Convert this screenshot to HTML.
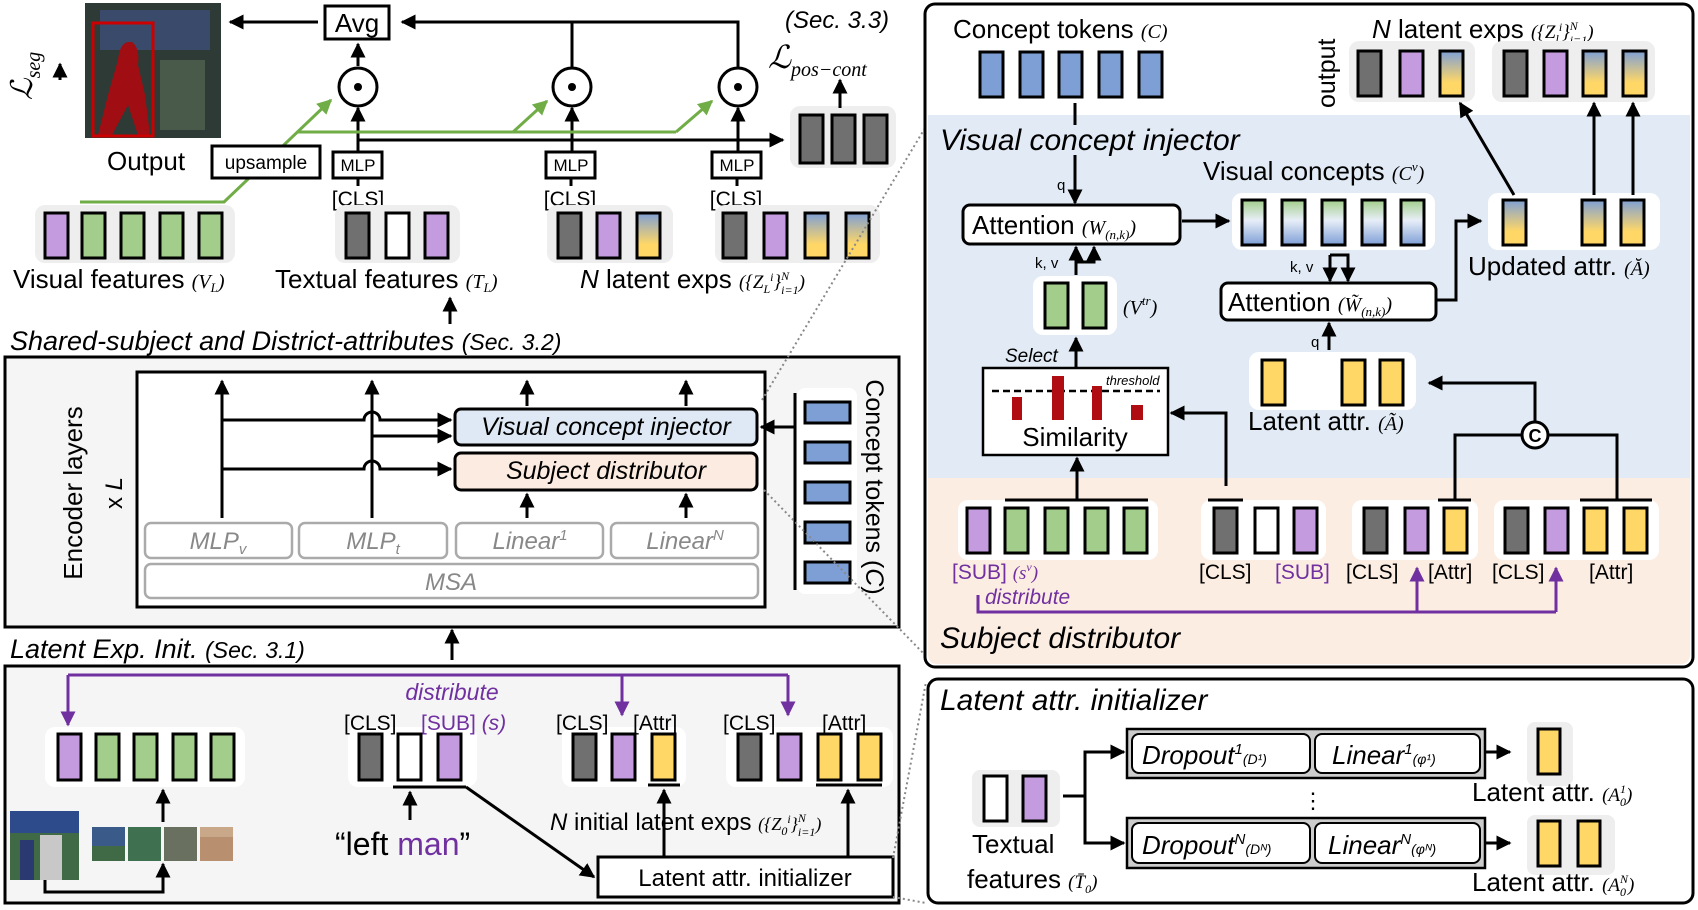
<!DOCTYPE html>
<html><head><meta charset="utf-8"><style>
html,body{margin:0;padding:0;background:#fff}
svg{display:block}
text{font-family:"Liberation Sans Narrow","Liberation Sans",sans-serif;fill:#000}
.it{font-style:italic}
.ser{font-family:"Liberation Serif",serif;font-style:italic}
.tk{stroke:#000;stroke-width:3}
.ln{stroke:#000;stroke-width:3;fill:none}
.pl{stroke:#7030a0;stroke-width:3;fill:none}
.gl{stroke:#70ad47;stroke-width:3;fill:none}
.dot{stroke:#888;stroke-width:2;stroke-dasharray:2 3;fill:none}
</style></head><body>
<svg width="1698" height="910" viewBox="0 0 1698 910" xmlns="http://www.w3.org/2000/svg">
<defs>
<marker id="a" viewBox="0 0 10 10" refX="9" refY="5" markerWidth="5" markerHeight="5" orient="auto-start-reverse"><path d="M0 0L10 5L0 10z" fill="#000"/></marker>
<marker id="ap" viewBox="0 0 10 10" refX="9" refY="5" markerWidth="5" markerHeight="5" orient="auto"><path d="M0 0L10 5L0 10z" fill="#7030a0"/></marker>
<marker id="ag" viewBox="0 0 10 10" refX="9" refY="5" markerWidth="5" markerHeight="5" orient="auto"><path d="M0 0L10 5L0 10z" fill="#70ad47"/></marker>
<linearGradient id="by" x1="0" y1="0" x2="0" y2="1"><stop offset="0" stop-color="#7e9fd6"/><stop offset="0.7" stop-color="#ffd766"/></linearGradient>
<linearGradient id="gb" x1="0" y1="0" x2="0" y2="1"><stop offset="0" stop-color="#a2cd8a"/><stop offset="0.45" stop-color="#e8eef8"/><stop offset="1" stop-color="#7e9fd6"/></linearGradient>
</defs>

<!-- ============ TOP LEFT ============ -->
<rect x="85" y="3" width="136" height="135" fill="#2e3a35"/>
<rect x="100" y="10" width="110" height="40" fill="#3a4a6a"/>
<rect x="160" y="60" width="45" height="70" fill="#4a5a4a"/>
<path d="M118 60 Q120 40 132 42 Q140 48 138 65 L145 95 L150 135 L138 135 L128 105 L112 135 L98 135 L108 95 Z" fill="#a00d12"/>
<rect x="93" y="23" width="60" height="113" fill="none" stroke="#c00" stroke-width="3"/>
<text transform="translate(32,100) rotate(-90)" class="ser" font-size="30">ℒ<tspan font-size="20" dy="8">seg</tspan></text>
<line x1="60" y1="80" x2="60" y2="64" class="ln" marker-end="url(#a)"/>

<rect x="325" y="6" width="64" height="33" fill="#fff" stroke="#000" stroke-width="3"/>
<text x="357" y="32" font-size="26" text-anchor="middle">Avg</text>
<line x1="318" y1="22" x2="230" y2="22" class="ln" marker-end="url(#a)"/>
<path d="M738 68 V22 H402" class="ln" marker-end="url(#a)"/>
<line x1="572" y1="68" x2="572" y2="22" class="ln"/>
<line x1="358" y1="66" x2="358" y2="44" class="ln" marker-end="url(#a)"/>
<g fill="#fff" stroke="#000" stroke-width="3">
<circle cx="358" cy="87" r="19"/><circle cx="572" cy="87" r="19"/><circle cx="738" cy="87" r="19"/></g>
<g fill="#000"><circle cx="358" cy="87" r="4"/><circle cx="572" cy="87" r="4"/><circle cx="738" cy="87" r="4"/></g>
<g class="ln" marker-end="url(#a)">
<line x1="358" y1="152" x2="358" y2="108"/><line x1="572" y1="152" x2="572" y2="108"/><line x1="738" y1="152" x2="738" y2="108"/></g>
<g fill="#fff" stroke="#000" stroke-width="3">
<rect x="333" y="152" width="49" height="26"/><rect x="546" y="152" width="49" height="26"/><rect x="712" y="152" width="49" height="26"/></g>
<g font-size="17" text-anchor="middle"><text x="358" y="171">MLP</text><text x="571" y="171">MLP</text><text x="737" y="171">MLP</text></g>
<g class="ln" stroke-width="2"><line x1="358" y1="178" x2="358" y2="186"/><line x1="571" y1="178" x2="571" y2="186"/><line x1="737" y1="178" x2="737" y2="186"/></g>
<g font-size="21" text-anchor="middle"><text x="358" y="206">[CLS]</text><text x="570" y="206">[CLS]</text><text x="736" y="206">[CLS]</text></g>
<line x1="358" y1="140" x2="783" y2="140" class="ln" marker-end="url(#a)"/>
<path d="M80 202 H224 L331 100" class="gl" marker-end="url(#ag)"/>
<path d="M297 132 H676" class="gl"/>
<line x1="513" y1="132" x2="547" y2="101" class="gl" marker-end="url(#ag)"/>
<line x1="676" y1="132" x2="712" y2="101" class="gl" marker-end="url(#ag)"/>
<rect x="212" y="146" width="108" height="32" fill="#fff" stroke="#000" stroke-width="3"/>
<text x="266" y="169" font-size="19" text-anchor="middle">upsample</text>
<text x="107" y="170" font-size="26">Output</text>

<!-- top token groups -->
<g fill="#eee"><rect x="35" y="205" width="200" height="58" rx="10"/><rect x="335" y="205" width="125" height="58" rx="10"/><rect x="547" y="205" width="126" height="58" rx="10"/><rect x="715" y="205" width="165" height="58" rx="10"/><rect x="790" y="106" width="106" height="62" rx="10"/></g>
<g class="tk">
<rect x="45" y="213" width="23" height="45" fill="#c39bde"/><rect x="82" y="213" width="23" height="45" fill="#a2cd8a"/><rect x="121" y="213" width="23" height="45" fill="#a2cd8a"/><rect x="160" y="213" width="23" height="45" fill="#a2cd8a"/><rect x="199" y="213" width="23" height="45" fill="#a2cd8a"/>
<rect x="346" y="213" width="23" height="45" fill="#707070"/><rect x="386" y="213" width="23" height="45" fill="#fff"/><rect x="425" y="213" width="23" height="45" fill="#c39bde"/>
<rect x="558" y="213" width="23" height="45" fill="#707070"/><rect x="597" y="213" width="23" height="45" fill="#c39bde"/><rect x="637" y="213" width="23" height="45" fill="url(#by)"/>
<rect x="723" y="213" width="23" height="45" fill="#707070"/><rect x="764" y="213" width="23" height="45" fill="#c39bde"/><rect x="805" y="213" width="23" height="45" fill="url(#by)"/><rect x="846" y="213" width="23" height="45" fill="url(#by)"/>
<rect x="800" y="115" width="23" height="48" fill="#707070"/><rect x="832" y="115" width="23" height="48" fill="#707070"/><rect x="864" y="115" width="23" height="48" fill="#707070"/>
</g>
<text x="13" y="288" font-size="26">Visual features <tspan class="ser" font-size="20">(V<tspan font-size="13" dy="4">L</tspan><tspan dy="-4">)</tspan></tspan></text>
<text x="275" y="288" font-size="26">Textual features <tspan class="ser" font-size="20">(T<tspan font-size="13" dy="4">L</tspan><tspan dy="-4">)</tspan></tspan></text>
<text x="580" y="288" font-size="26"><tspan class="it">N</tspan> latent exps <tspan class="ser" font-size="19">({Z<tspan font-size="12" dy="5">L</tspan><tspan font-size="12" dy="-12">i</tspan><tspan dy="7">}</tspan><tspan font-size="12" dy="-8">N</tspan><tspan font-size="12" dx="-8" dy="14">i=1</tspan><tspan dy="-6">)</tspan></tspan></text>
<text x="785" y="28" font-size="24" class="it">(Sec. 3.3)</text>
<text x="768" y="68" class="ser" font-size="32">ℒ<tspan font-size="20" dy="8">pos−cont</tspan></text>
<line x1="840" y1="108" x2="840" y2="80" class="ln" marker-end="url(#a)"/>
<line x1="450" y1="324" x2="450" y2="298" class="ln" marker-end="url(#a)"/>

<!-- ============ MIDDLE LEFT ============ -->
<text x="10" y="350" font-size="27" class="it">Shared-subject and District-attributes <tspan font-size="23">(Sec. 3.2)</tspan></text>
<rect x="5" y="357" width="894" height="270" fill="#f5f5f5" stroke="#000" stroke-width="3"/>
<text transform="translate(82,493) rotate(-90)" font-size="26" text-anchor="middle" font-family="DejaVu Sans, sans-serif">Encoder layers</text>
<text transform="translate(122,493) rotate(-90)" font-size="24" text-anchor="middle" font-family="DejaVu Sans, sans-serif">x <tspan font-style="italic">L</tspan></text>
<rect x="137" y="372" width="628" height="235" fill="#fff" stroke="#000" stroke-width="3"/>
<g class="ln" marker-end="url(#a)">
<line x1="222" y1="518" x2="222" y2="381"/><line x1="372" y1="518" x2="372" y2="381"/>
<line x1="527" y1="406" x2="527" y2="381"/><line x1="686" y1="406" x2="686" y2="381"/>
<line x1="527" y1="518" x2="527" y2="494"/><line x1="686" y1="518" x2="686" y2="494"/>
<path d="M222 420 H364 A8 8 0 0 1 380 420 H451"/>
<path d="M372 436 H451"/>
<path d="M222 469 H364 A8 8 0 0 1 380 469 H451"/>
<line x1="795" y1="427" x2="761" y2="427"/>
</g>
<rect x="455" y="409" width="302" height="36" rx="6" fill="#dfe9f5" stroke="#000" stroke-width="3"/>
<text x="606" y="435" font-size="25" class="it" text-anchor="middle">Visual concept injector</text>
<rect x="455" y="453" width="302" height="37" rx="6" fill="#fcebe0" stroke="#000" stroke-width="3"/>
<text x="606" y="479" font-size="25" class="it" text-anchor="middle">Subject distributor</text>
<g fill="#fff" stroke="#aaa" stroke-width="2.5">
<rect x="145" y="523" width="147" height="35" rx="6"/><rect x="299" y="523" width="148" height="35" rx="6"/><rect x="456" y="523" width="147" height="35" rx="6"/><rect x="611" y="523" width="147" height="35" rx="6"/>
<rect x="145" y="564" width="613" height="34" rx="6"/></g>
<g class="ser" font-size="24" fill="#888" text-anchor="middle" style="fill:#888">
<text x="218" y="549" style="fill:#888">MLP<tspan font-size="15" dy="5">v</tspan></text>
<text x="373" y="549" style="fill:#888">MLP<tspan font-size="15" dy="5">t</tspan></text>
<text x="530" y="549" style="fill:#888">Linear<tspan font-size="15" dy="-9">1</tspan></text>
<text x="685" y="549" style="fill:#888">Linear<tspan font-size="15" dy="-9">N</tspan></text>
<text x="451" y="590" style="fill:#888">MSA</text></g>
<rect x="797" y="388" width="60" height="206" fill="#fff" rx="8"/>
<line x1="795" y1="393" x2="795" y2="590" class="ln"/>
<g class="tk" fill="#7e9fd6">
<rect x="805" y="402" width="45" height="21"/><rect x="805" y="442" width="45" height="21"/><rect x="805" y="482" width="45" height="21"/><rect x="805" y="522" width="45" height="21"/><rect x="805" y="562" width="45" height="21"/></g>
<text transform="translate(866,487) rotate(90)" font-size="25" text-anchor="middle" font-family="DejaVu Sans, sans-serif">Concept tokens (<tspan font-style="italic">C</tspan>)</text>

<!-- ============ BOTTOM LEFT ============ -->
<text x="10" y="658" font-size="27" class="it">Latent Exp. Init. <tspan font-size="23">(Sec. 3.1)</tspan></text>
<line x1="452" y1="660" x2="452" y2="630" class="ln" marker-end="url(#a)"/>
<rect x="5" y="666" width="894" height="237" fill="#f5f5f5" stroke="#000" stroke-width="3"/>
<path d="M68 675 H788" class="pl"/>
<line x1="68" y1="675" x2="68" y2="725" class="pl" marker-end="url(#ap)"/>
<line x1="622" y1="675" x2="622" y2="715" class="pl" marker-end="url(#ap)"/>
<line x1="788" y1="675" x2="788" y2="715" class="pl" marker-end="url(#ap)"/>
<text x="452" y="700" font-size="23" class="it" text-anchor="middle" style="fill:#7030a0">distribute</text>
<g fill="#fff"><rect x="45" y="727" width="200" height="60" rx="10"/><rect x="348" y="727" width="129" height="60" rx="10"/><rect x="562" y="727" width="124" height="60" rx="10"/><rect x="726" y="727" width="167" height="60" rx="10"/></g>
<g class="tk">
<rect x="58" y="734" width="23" height="46" fill="#c39bde"/><rect x="96" y="734" width="23" height="46" fill="#a2cd8a"/><rect x="134" y="734" width="23" height="46" fill="#a2cd8a"/><rect x="173" y="734" width="23" height="46" fill="#a2cd8a"/><rect x="211" y="734" width="23" height="46" fill="#a2cd8a"/>
<rect x="359" y="734" width="23" height="46" fill="#707070"/><rect x="398" y="734" width="23" height="46" fill="#fff"/><rect x="438" y="734" width="23" height="46" fill="#c39bde"/>
<rect x="573" y="734" width="23" height="46" fill="#707070"/><rect x="612" y="734" width="23" height="46" fill="#c39bde"/><rect x="652" y="734" width="23" height="46" fill="#ffd766"/>
<rect x="738" y="734" width="23" height="46" fill="#707070"/><rect x="778" y="734" width="23" height="46" fill="#c39bde"/><rect x="818" y="734" width="23" height="46" fill="#ffd766"/><rect x="858" y="734" width="23" height="46" fill="#ffd766"/>
</g>
<g font-size="21"><text x="344" y="730">[CLS]</text><text x="556" y="730">[CLS]</text><text x="633" y="730">[Attr]</text><text x="723" y="730">[CLS]</text><text x="822" y="730">[Attr]</text></g>
<text x="421" y="730" font-size="21" style="fill:#7030a0">[SUB] <tspan class="it">(s)</tspan></text>
<line x1="393" y1="787" x2="466" y2="787" class="ln"/>
<line x1="466" y1="787" x2="594" y2="877" class="ln" marker-end="url(#a)"/>
<line x1="648" y1="785" x2="680" y2="785" class="ln"/><line x1="816" y1="785" x2="882" y2="785" class="ln"/>
<line x1="410" y1="820" x2="410" y2="792" class="ln" marker-end="url(#a)"/>
<line x1="664" y1="857" x2="664" y2="790" class="ln" marker-end="url(#a)"/>
<line x1="848" y1="857" x2="848" y2="790" class="ln" marker-end="url(#a)"/>
<text x="335" y="855" font-size="32">“left <tspan style="fill:#7030a0">man</tspan>”</text>
<text x="550" y="830" font-size="24"><tspan class="it">N</tspan> initial latent exps <tspan class="ser" font-size="18">({Z<tspan font-size="12" dy="5">0</tspan><tspan font-size="12" dy="-12">i</tspan><tspan dy="7">}</tspan><tspan font-size="12" dy="-8">N</tspan><tspan font-size="12" dx="-8" dy="14">i=1</tspan><tspan dy="-6">)</tspan></tspan></text>
<rect x="598" y="857" width="295" height="40" fill="#fff" stroke="#000" stroke-width="3"/>
<text x="745" y="886" font-size="24" text-anchor="middle">Latent attr. initializer</text>
<rect x="10" y="811" width="69" height="69" fill="#3f6a45"/><rect x="10" y="811" width="69" height="22" fill="#2d4a8a"/><rect x="40" y="835" width="22" height="45" fill="#c8c8c8"/><rect x="20" y="840" width="14" height="40" fill="#2a3a70"/>
<rect x="92" y="827" width="33" height="34" fill="#3a5a8a"/><rect x="128" y="827" width="33" height="34" fill="#3f7050"/><rect x="164" y="827" width="33" height="34" fill="#6a7060"/><rect x="200" y="827" width="33" height="34" fill="#b89070"/>
<rect x="92" y="846" width="33" height="15" fill="#3f6a45"/><rect x="200" y="827" width="33" height="10" fill="#c8a888"/>
<path d="M45 880 V892 H163 V864" class="ln" marker-end="url(#a)"/>
<line x1="163" y1="822" x2="163" y2="790" class="ln" marker-end="url(#a)"/>

<!-- dotted connectors -->
<line x1="762" y1="400" x2="925" y2="128" class="dot"/>
<line x1="764" y1="490" x2="925" y2="655" class="dot"/>
<line x1="893" y1="858" x2="926" y2="682" class="dot"/>
<line x1="893" y1="897" x2="926" y2="903" class="dot"/>

<!-- ============ RIGHT PANEL ============ -->
<rect x="925" y="4" width="768" height="663" rx="10" fill="#fff" stroke="#000" stroke-width="3"/>
<path d="M928 115 H1690 V478 H928 Z" fill="#e2ebf5"/>
<path d="M928 478 H1690 V654 Q1690 664 1680 664 H938 Q928 664 928 654 Z" fill="#fcede3"/>
<text x="953" y="38" font-size="26">Concept tokens <tspan class="ser" font-size="20">(C)</tspan></text>
<g class="tk" fill="#7e9fd6">
<rect x="980" y="52" width="23" height="45"/><rect x="1020" y="52" width="23" height="45"/><rect x="1059" y="52" width="23" height="45"/><rect x="1099" y="52" width="23" height="45"/><rect x="1139" y="52" width="23" height="45"/></g>
<line x1="1075" y1="103" x2="1075" y2="125" class="ln" stroke-width="2"/>
<line x1="1075" y1="155" x2="1075" y2="203" class="ln" marker-end="url(#a)"/>
<text x="1057" y="190" font-size="15">q</text>
<text x="940" y="150" font-size="30" class="it">Visual concept injector</text>
<text transform="translate(1335,108) rotate(-90)" font-size="25" font-family="DejaVu Sans, sans-serif">output</text>
<text x="1372" y="38" font-size="26"><tspan class="it">N</tspan> latent exps <tspan class="ser" font-size="19">({Z<tspan font-size="12" dy="5">l</tspan><tspan font-size="12" dy="-12">i</tspan><tspan dy="7">}</tspan><tspan font-size="12" dy="-8">N</tspan><tspan font-size="12" dx="-8" dy="14">i=1</tspan><tspan dy="-6">)</tspan></tspan></text>
<g fill="#eee"><rect x="1349" y="41" width="126" height="61" rx="10"/><rect x="1492" y="41" width="163" height="61" rx="10"/></g>
<g class="tk">
<rect x="1358" y="51" width="23" height="45" fill="#707070"/><rect x="1400" y="51" width="23" height="45" fill="#c39bde"/><rect x="1440" y="51" width="23" height="45" fill="url(#by)"/>
<rect x="1504" y="51" width="23" height="45" fill="#707070"/><rect x="1544" y="51" width="23" height="45" fill="#c39bde"/><rect x="1583" y="51" width="23" height="45" fill="url(#by)"/><rect x="1623" y="51" width="23" height="45" fill="url(#by)"/></g>

<rect x="963" y="205" width="217" height="39" rx="7" fill="#fff" stroke="#000" stroke-width="3"/>
<text x="972" y="234" font-size="26">Attention <tspan class="ser" font-size="20">(W<tspan font-size="13" dy="5">(n,k)</tspan><tspan dy="-5">)</tspan></tspan></text>
<line x1="1182" y1="221" x2="1229" y2="221" class="ln" marker-end="url(#a)"/>
<text x="1203" y="180" font-size="26">Visual  concepts <tspan class="ser" font-size="20">(C<tspan font-size="13" dy="-9">v</tspan><tspan dy="9">)</tspan></tspan></text>
<g fill="#fff"><rect x="1232" y="193" width="203" height="57" rx="10"/><rect x="1488" y="193" width="172" height="57" rx="10"/><rect x="1033" y="276" width="84" height="59" rx="10"/><rect x="1249" y="352" width="167" height="58" rx="10"/></g>
<g class="tk">
<rect x="1242" y="200" width="23" height="45" fill="url(#gb)"/><rect x="1282" y="200" width="23" height="45" fill="url(#gb)"/><rect x="1322" y="200" width="23" height="45" fill="url(#gb)"/><rect x="1362" y="200" width="23" height="45" fill="url(#gb)"/><rect x="1401" y="200" width="23" height="45" fill="url(#gb)"/>
<rect x="1503" y="200" width="23" height="45" fill="url(#by)"/><rect x="1582" y="200" width="23" height="45" fill="url(#by)"/><rect x="1621" y="200" width="23" height="45" fill="url(#by)"/>
<rect x="1045" y="283" width="23" height="45" fill="#a2cd8a"/><rect x="1083" y="283" width="23" height="45" fill="#a2cd8a"/>
<rect x="1262" y="360" width="23" height="45" fill="#ffd766"/><rect x="1342" y="360" width="23" height="45" fill="#ffd766"/><rect x="1380" y="360" width="23" height="45" fill="#ffd766"/></g>
<text x="1468" y="275" font-size="26">Updated attr. <tspan class="ser" font-size="20">(Ă)</tspan></text>
<g class="ln" marker-end="url(#a)">
<line x1="1514" y1="195" x2="1460" y2="103"/><line x1="1594" y1="195" x2="1594" y2="103"/><line x1="1633" y1="195" x2="1633" y2="103"/>
<path d="M1437 300 H1456 V221 H1481"/>
<line x1="1076" y1="275" x2="1076" y2="247"/>
<path d="M1076 262 H1094 V247"/>
<line x1="1076" y1="368" x2="1076" y2="338"/>
<path d="M1330 255 V281"/><path d="M1330 255 H1348 V281"/>
<line x1="1329" y1="350" x2="1329" y2="323"/>
<path d="M1226 486 V413 H1171"/>
<line x1="1077" y1="500" x2="1077" y2="458"/>
<path d="M1535 421 V383 H1429"/>
</g>
<text x="1035" y="268" font-size="15">k, v</text>
<text x="1290" y="272" font-size="15">k, v</text>
<text x="1311" y="347" font-size="15">q</text>
<text x="1123" y="314" class="ser" font-size="20">(V<tspan font-size="13" dy="-9">tr</tspan><tspan dy="9">)</tspan></text>
<text x="1005" y="362" font-size="19" class="it">Select</text>
<rect x="983" y="368" width="185" height="87" fill="#fff" stroke="#000" stroke-width="2.5"/>
<line x1="992" y1="391" x2="1160" y2="391" stroke="#000" stroke-width="2.5" stroke-dasharray="7 4"/>
<g fill="#b00d12"><rect x="1012" y="397" width="10" height="23"/><rect x="1052" y="376" width="12" height="44"/><rect x="1092" y="386" width="10" height="34"/><rect x="1131" y="405" width="12" height="15"/></g>
<text x="1106" y="385" font-size="13" class="it">threshold</text>
<text x="1075" y="446" font-size="26" text-anchor="middle">Similarity</text>
<rect x="1221" y="283" width="215" height="37" rx="7" fill="#fff" stroke="#000" stroke-width="3"/>
<text x="1228" y="311" font-size="26">Attention <tspan class="ser" font-size="20">(W̃<tspan font-size="13" dy="5">(n,k)</tspan><tspan dy="-5">)</tspan></tspan></text>
<text x="1248" y="430" font-size="26">Latent attr. <tspan class="ser" font-size="20">(Ã)</tspan></text>
<path d="M1455 500 V435 H1617 V500" class="ln"/>
<circle cx="1535" cy="435" r="13" fill="#fff" stroke="#000" stroke-width="3"/>
<text x="1535" y="442" font-size="18" text-anchor="middle" font-weight="bold">C</text>

<!-- peach row -->
<g fill="#fff"><rect x="958" y="500" width="200" height="60" rx="10"/><rect x="1201" y="500" width="125" height="60" rx="10"/><rect x="1352" y="500" width="126" height="60" rx="10"/><rect x="1494" y="500" width="165" height="60" rx="10"/></g>
<g class="tk">
<rect x="967" y="508" width="23" height="45" fill="#c39bde"/><rect x="1005" y="508" width="23" height="45" fill="#a2cd8a"/><rect x="1045" y="508" width="23" height="45" fill="#a2cd8a"/><rect x="1085" y="508" width="23" height="45" fill="#a2cd8a"/><rect x="1124" y="508" width="23" height="45" fill="#a2cd8a"/>
<rect x="1214" y="508" width="23" height="45" fill="#707070"/><rect x="1255" y="508" width="23" height="45" fill="#fff"/><rect x="1294" y="508" width="23" height="45" fill="#c39bde"/>
<rect x="1364" y="508" width="23" height="45" fill="#707070"/><rect x="1405" y="508" width="23" height="45" fill="#c39bde"/><rect x="1444" y="508" width="23" height="45" fill="#ffd766"/>
<rect x="1505" y="508" width="23" height="45" fill="#707070"/><rect x="1545" y="508" width="23" height="45" fill="#c39bde"/><rect x="1584" y="508" width="23" height="45" fill="#ffd766"/><rect x="1624" y="508" width="23" height="45" fill="#ffd766"/></g>
<g class="ln"><line x1="1005" y1="500" x2="1148" y2="500"/><line x1="1208" y1="500" x2="1243" y2="500"/><line x1="1438" y1="500" x2="1471" y2="500"/><line x1="1580" y1="500" x2="1652" y2="500"/></g>
<g font-size="21"><text x="1199" y="579">[CLS]</text><text x="1346" y="579">[CLS]</text><text x="1428" y="579">[Attr]</text><text x="1492" y="579">[CLS]</text><text x="1589" y="579">[Attr]</text></g>
<text x="952" y="579" font-size="21" style="fill:#7030a0">[SUB] <tspan class="ser" font-size="19" style="fill:#7030a0">(s<tspan font-size="12" dy="-8">v</tspan><tspan dy="8">)</tspan></tspan></text>
<text x="1275" y="579" font-size="21" style="fill:#7030a0">[SUB]</text>
<path d="M978 595 V612 H1556" class="pl"/>
<line x1="1417" y1="612" x2="1417" y2="568" class="pl" marker-end="url(#ap)"/>
<line x1="1556" y1="612" x2="1556" y2="568" class="pl" marker-end="url(#ap)"/>
<text x="985" y="604" font-size="21" class="it" style="fill:#7030a0">distribute</text>
<text x="940" y="648" font-size="30" class="it">Subject distributor</text>

<!-- latent attr initializer panel -->
<rect x="928" y="679" width="765" height="224" rx="10" fill="#fff" stroke="#000" stroke-width="3"/>
<text x="940" y="710" font-size="30" class="it">Latent attr. initializer</text>
<g fill="#ccc" stroke="#000" stroke-width="2.5"><rect x="1127" y="729" width="358" height="49"/><rect x="1127" y="818" width="358" height="50"/></g>
<g fill="#fff" stroke="#000" stroke-width="2"><rect x="1132" y="734" width="178" height="39" rx="7"/><rect x="1315" y="734" width="165" height="39" rx="7"/><rect x="1132" y="823" width="178" height="40" rx="7"/><rect x="1315" y="823" width="165" height="40" rx="7"/></g>
<g class="ser" font-size="26">
<text x="1142" y="764">Dropout<tspan font-size="15" dy="-10">1</tspan><tspan font-size="14" dy="10">(D¹)</tspan></text>
<text x="1332" y="764">Linear<tspan font-size="15" dy="-10">1</tspan><tspan font-size="14" dy="10">(φ¹)</tspan></text>
<text x="1142" y="854">Dropout<tspan font-size="15" dy="-10">N</tspan><tspan font-size="14" dy="10">(Dᴺ)</tspan></text>
<text x="1328" y="854">Linear<tspan font-size="15" dy="-10">N</tspan><tspan font-size="14" dy="10">(φᴺ)</tspan></text></g>
<text x="1313" y="808" font-size="22" text-anchor="middle">⋮</text>
<g class="ln" marker-end="url(#a)"><line x1="1485" y1="752" x2="1510" y2="752"/><line x1="1485" y1="843" x2="1510" y2="843"/>
<path d="M1085 796 V752 H1124"/><path d="M1085 796 V843 H1124"/></g>
<line x1="1063" y1="796" x2="1085" y2="796" class="ln"/>
<g fill="#eee"><rect x="1527" y="722" width="46" height="64" rx="8"/><rect x="1527" y="815" width="88" height="60" rx="8"/><rect x="972" y="770" width="88" height="57" rx="8"/></g>
<g class="tk"><rect x="1538" y="729" width="22" height="45" fill="#ffd766"/><rect x="1538" y="821" width="22" height="45" fill="#ffd766"/><rect x="1578" y="821" width="22" height="45" fill="#ffd766"/>
<rect x="984" y="776" width="23" height="45" fill="#fff"/><rect x="1023" y="776" width="23" height="45" fill="#c39bde"/></g>
<text x="1472" y="801" font-size="26">Latent attr. <tspan class="ser" font-size="19">(A<tspan font-size="12" dy="5">0</tspan><tspan font-size="12" dx="-6" dy="-13">1</tspan><tspan dy="8">)</tspan></tspan></text>
<text x="1472" y="891" font-size="26">Latent attr. <tspan class="ser" font-size="19">(A<tspan font-size="12" dy="5">0</tspan><tspan font-size="12" dx="-6" dy="-13">N</tspan><tspan dy="8">)</tspan></tspan></text>
<text x="972" y="853" font-size="26">Textual</text>
<text x="967" y="888" font-size="26">features <tspan class="ser" font-size="19">(T̄<tspan font-size="12" dy="5">0</tspan><tspan dy="-5">)</tspan></tspan></text>
</svg>
</body></html>
